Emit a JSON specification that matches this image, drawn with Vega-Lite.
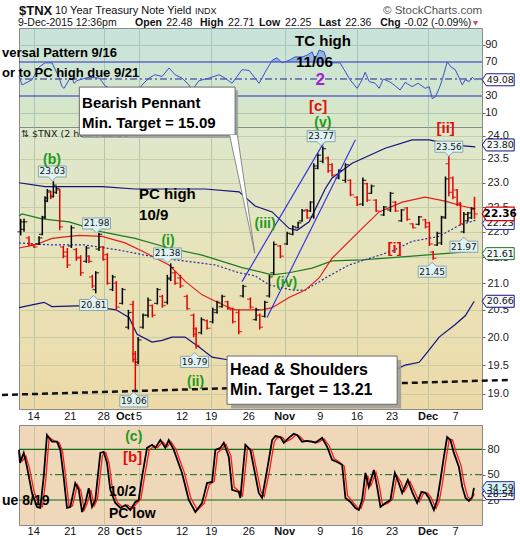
{
"$schema": "https://vega.github.io/schema/vega-lite/v6.json",
"padding": {"top": 4, "left": 0, "right": 0, "bottom": 0},
"background": "white",
"config": {"font": "Liberation Sans", "view": {"stroke": "#8a8a8a"}, "axis": {"labelOverlap": false}},
"datasets": {
"xt": [{"d":0,"t":"14","m":0},{"d":5.1,"t":"21","m":0},{"d":9.76,"t":"28","m":0},{"d":12.75,"t":"Oct","m":1},{"d":14.69,"t":"5","m":0},{"d":20.68,"t":"12","m":0},{"d":24.77,"t":"19","m":0},{"d":29.99,"t":"26","m":0},{"d":35,"t":"Nov","m":1},{"d":39.97,"t":"9","m":0},{"d":45.09,"t":"16","m":0},{"d":49.97,"t":"23","m":0},{"d":54.99,"t":"Dec","m":1},{"d":58.8,"t":"7","m":0}],
"rsi": [{"d":-2.05,"v":53},{"d":-1.63,"v":43},{"d":-0.24,"v":49},{"d":0.74,"v":64},{"d":1.58,"v":69},{"d":2.55,"v":69},{"d":3.53,"v":52},{"d":3.95,"v":41},{"d":4.23,"v":39},{"d":4.92,"v":49},{"d":5.34,"v":51},{"d":5.62,"v":45},{"d":6.04,"v":48},{"d":6.74,"v":50},{"d":7.71,"v":52},{"d":9.11,"v":51},{"d":9.53,"v":47},{"d":9.94,"v":42},{"d":10.92,"v":38},{"d":12.04,"v":33},{"d":13.0,"v":28},{"d":14.0,"v":22},{"d":14.55,"v":35},{"d":15.1,"v":43},{"d":16.08,"v":51},{"d":16.92,"v":55},{"d":17.9,"v":53},{"d":18.87,"v":63},{"d":19.71,"v":55},{"d":20.68,"v":51},{"d":21.66,"v":43},{"d":22.08,"v":37},{"d":23.05,"v":48},{"d":24.45,"v":51},{"d":25.84,"v":55},{"d":26.68,"v":51},{"d":27.66,"v":45},{"d":29.05,"v":61},{"d":30.03,"v":60},{"d":30.87,"v":51},{"d":31.42,"v":45},{"d":31.84,"v":51},{"d":32.26,"v":58},{"d":33.24,"v":72},{"d":33.93,"v":75},{"d":34.63,"v":69},{"d":35.6,"v":72},{"d":36.44,"v":76},{"d":37.42,"v":76},{"d":38.12,"v":78},{"d":38.82,"v":82},{"d":39.23,"v":73},{"d":39.79,"v":84},{"d":40.49,"v":82},{"d":40.91,"v":70},{"d":41.6,"v":69},{"d":42.7,"v":69},{"d":43.28,"v":61},{"d":44.11,"v":49},{"d":45.09,"v":39},{"d":45.79,"v":49},{"d":46.21,"v":58},{"d":46.77,"v":47},{"d":47.6,"v":45},{"d":48.16,"v":39},{"d":48.72,"v":50},{"d":49.55,"v":47},{"d":50.25,"v":43},{"d":51.09,"v":37},{"d":51.79,"v":46},{"d":52.76,"v":41},{"d":53.6,"v":45},{"d":54.58,"v":39},{"d":55.14,"v":41},{"d":55.56,"v":27},{"d":56.0,"v":29},{"d":56.53,"v":39},{"d":56.95,"v":49},{"d":57.65,"v":70},{"d":58.2,"v":64},{"d":58.77,"v":61},{"d":59.33,"v":51},{"d":59.75,"v":43},{"d":60.16,"v":49},{"d":60.72,"v":47},{"d":61.14,"v":52},{"d":61.56,"v":49}],
"ob": [{"d":32.98,"v":70},{"d":33.24,"v":72},{"d":33.93,"v":75},{"d":34.4,"v":70},{"d":34.9,"v":70},{"d":35.6,"v":72},{"d":36.44,"v":76},{"d":37.42,"v":76},{"d":38.12,"v":78},{"d":38.82,"v":82},{"d":39.23,"v":73},{"d":39.79,"v":84},{"d":40.49,"v":82},{"d":40.91,"v":70}],
"bars": [
{"d":-1.81,"o":22.0,"h":22.26,"l":21.93,"c":22.2,"dir":"up"},
{"d":-1.35,"o":22.05,"h":22.26,"l":22.0,"c":22.2,"dir":"up"},
{"d":-0.66,"o":21.88,"h":21.91,"l":21.72,"c":21.76,"dir":"dn"},
{"d":0.04,"o":21.74,"h":21.75,"l":21.68,"c":21.7,"dir":"dn"},
{"d":0.74,"o":21.76,"h":21.91,"l":21.74,"c":21.88,"dir":"up"},
{"d":1.2,"o":21.95,"h":22.32,"l":21.93,"c":22.28,"dir":"up"},
{"d":1.58,"o":22.3,"h":22.72,"l":22.26,"c":22.68,"dir":"up"},
{"d":1.9,"o":22.62,"h":22.87,"l":22.6,"c":22.83,"dir":"up"},
{"d":2.37,"o":22.8,"h":22.83,"l":22.66,"c":22.7,"dir":"dn"},
{"d":2.74,"o":22.72,"h":23.03,"l":22.7,"c":22.95,"dir":"up"},
{"d":3.15,"o":22.8,"h":22.91,"l":22.77,"c":22.88,"dir":"up"},
{"d":3.63,"o":22.85,"h":22.87,"l":22.03,"c":22.1,"dir":"dn"},
{"d":4.13,"o":21.7,"h":21.72,"l":21.48,"c":21.52,"dir":"dn"},
{"d":4.69,"o":21.6,"h":21.68,"l":21.29,"c":21.35,"dir":"dn"},
{"d":5.25,"o":21.72,"h":22.13,"l":21.68,"c":22.08,"dir":"up"},
{"d":5.94,"o":21.65,"h":21.68,"l":21.43,"c":21.48,"dir":"dn"},
{"d":6.55,"o":21.5,"h":21.54,"l":21.14,"c":21.2,"dir":"dn"},
{"d":7.34,"o":21.42,"h":21.72,"l":21.39,"c":21.68,"dir":"up"},
{"d":7.71,"o":21.52,"h":21.54,"l":21.39,"c":21.42,"dir":"dn"},
{"d":8.18,"o":21.12,"h":21.16,"l":20.91,"c":20.95,"dir":"dn"},
{"d":8.65,"o":20.88,"h":21.23,"l":20.81,"c":21.2,"dir":"up"},
{"d":9.1,"o":21.66,"h":21.98,"l":21.62,"c":21.95,"dir":"up"},
{"d":9.67,"o":21.7,"h":21.72,"l":21.43,"c":21.46,"dir":"dn"},
{"d":10.27,"o":21.55,"h":21.58,"l":20.97,"c":21.0,"dir":"dn"},
{"d":11.0,"o":20.88,"h":21.16,"l":20.85,"c":21.12,"dir":"up"},
{"d":11.52,"o":21.0,"h":21.04,"l":20.5,"c":20.55,"dir":"dn"},
{"d":12.36,"o":20.62,"h":20.91,"l":20.6,"c":20.88,"dir":"up"},
{"d":13.2,"o":20.18,"h":20.5,"l":20.14,"c":20.45,"dir":"up"},
{"d":13.85,"o":20.6,"h":20.67,"l":19.55,"c":19.6,"dir":"dn"},
{"d":14.17,"o":19.7,"h":19.75,"l":19.06,"c":19.5,"dir":"dn"},
{"d":14.55,"o":19.55,"h":20.0,"l":19.52,"c":19.95,"dir":"up"},
{"d":15.24,"o":20.18,"h":20.43,"l":20.15,"c":20.4,"dir":"up"},
{"d":15.94,"o":20.4,"h":20.73,"l":20.36,"c":20.68,"dir":"up"},
{"d":16.54,"o":20.58,"h":20.6,"l":20.36,"c":20.4,"dir":"dn"},
{"d":17.24,"o":20.62,"h":20.91,"l":20.6,"c":20.88,"dir":"up"},
{"d":17.94,"o":20.75,"h":20.78,"l":20.54,"c":20.58,"dir":"dn"},
{"d":18.63,"o":20.64,"h":21.16,"l":20.6,"c":21.1,"dir":"up"},
{"d":19.1,"o":21.08,"h":21.38,"l":21.04,"c":21.3,"dir":"up"},
{"d":19.7,"o":21.2,"h":21.23,"l":20.97,"c":21.0,"dir":"dn"},
{"d":20.45,"o":21.1,"h":21.16,"l":20.91,"c":20.95,"dir":"dn"},
{"d":21.38,"o":20.75,"h":20.78,"l":20.5,"c":20.52,"dir":"dn"},
{"d":22.3,"o":20.4,"h":20.43,"l":20.0,"c":20.05,"dir":"dn"},
{"d":22.64,"o":20.15,"h":20.18,"l":19.79,"c":19.85,"dir":"dn"},
{"d":23.38,"o":20.08,"h":20.36,"l":20.05,"c":20.32,"dir":"up"},
{"d":24.17,"o":20.3,"h":20.32,"l":20.14,"c":20.16,"dir":"dn"},
{"d":24.96,"o":20.28,"h":20.54,"l":20.25,"c":20.5,"dir":"up"},
{"d":25.56,"o":20.45,"h":20.67,"l":20.43,"c":20.64,"dir":"up"},
{"d":26.26,"o":20.56,"h":20.78,"l":20.54,"c":20.75,"dir":"up"},
{"d":27.06,"o":20.65,"h":20.67,"l":20.5,"c":20.52,"dir":"dn"},
{"d":27.75,"o":20.5,"h":20.54,"l":20.25,"c":20.28,"dir":"dn"},
{"d":28.59,"o":20.45,"h":20.5,"l":20.05,"c":20.1,"dir":"dn"},
{"d":29.19,"o":20.76,"h":20.97,"l":20.73,"c":20.94,"dir":"up"},
{"d":30.21,"o":20.7,"h":20.73,"l":20.52,"c":20.55,"dir":"dn"},
{"d":31.0,"o":20.32,"h":20.54,"l":20.3,"c":20.5,"dir":"up"},
{"d":31.52,"o":20.4,"h":20.43,"l":20.14,"c":20.18,"dir":"dn"},
{"d":32.22,"o":20.38,"h":20.67,"l":20.36,"c":20.64,"dir":"up"},
{"d":32.86,"o":20.76,"h":21.16,"l":20.73,"c":21.12,"dir":"up"},
{"d":33.47,"o":21.2,"h":21.81,"l":21.16,"c":21.75,"dir":"up"},
{"d":34.39,"o":21.72,"h":21.74,"l":21.48,"c":21.52,"dir":"dn"},
{"d":35.33,"o":21.76,"h":22.0,"l":21.74,"c":21.97,"dir":"up"},
{"d":36.12,"o":21.95,"h":22.13,"l":21.93,"c":22.1,"dir":"up"},
{"d":36.86,"o":22.08,"h":22.2,"l":22.07,"c":22.18,"dir":"up"},
{"d":37.42,"o":22.22,"h":22.46,"l":22.2,"c":22.42,"dir":"up"},
{"d":38.12,"o":22.44,"h":22.46,"l":22.26,"c":22.28,"dir":"dn"},
{"d":38.58,"o":22.42,"h":22.62,"l":22.4,"c":22.6,"dir":"up"},
{"d":39.05,"o":22.3,"h":23.41,"l":22.26,"c":23.35,"dir":"up"},
{"d":39.61,"o":23.3,"h":23.62,"l":23.28,"c":23.58,"dir":"up"},
{"d":40.31,"o":23.45,"h":23.77,"l":23.41,"c":23.72,"dir":"up"},
{"d":41.05,"o":23.52,"h":23.55,"l":23.21,"c":23.25,"dir":"dn"},
{"d":41.6,"o":23.38,"h":23.41,"l":23.13,"c":23.16,"dir":"dn"},
{"d":42.54,"o":23.1,"h":23.28,"l":23.07,"c":23.25,"dir":"up"},
{"d":43.46,"o":23.05,"h":23.41,"l":23.0,"c":23.38,"dir":"up"},
{"d":44.16,"o":23.05,"h":23.07,"l":22.72,"c":22.75,"dir":"dn"},
{"d":45.09,"o":22.7,"h":22.72,"l":22.52,"c":22.55,"dir":"dn"},
{"d":45.89,"o":22.56,"h":23.11,"l":22.52,"c":23.05,"dir":"up"},
{"d":46.49,"o":22.98,"h":23.0,"l":22.6,"c":22.64,"dir":"dn"},
{"d":47.09,"o":22.78,"h":22.96,"l":22.77,"c":22.93,"dir":"up"},
{"d":47.74,"o":22.64,"h":22.66,"l":22.4,"c":22.42,"dir":"dn"},
{"d":48.81,"o":22.34,"h":22.52,"l":22.32,"c":22.5,"dir":"up"},
{"d":49.74,"o":22.44,"h":22.81,"l":22.4,"c":22.78,"dir":"up"},
{"d":50.43,"o":22.6,"h":22.62,"l":22.4,"c":22.42,"dir":"dn"},
{"d":51.27,"o":22.22,"h":22.46,"l":22.2,"c":22.44,"dir":"up"},
{"d":52.06,"o":22.48,"h":22.5,"l":22.22,"c":22.25,"dir":"dn"},
{"d":52.86,"o":22.16,"h":22.17,"l":22.07,"c":22.08,"dir":"dn"},
{"d":53.7,"o":22.15,"h":22.32,"l":22.13,"c":22.3,"dir":"up"},
{"d":54.62,"o":22.24,"h":22.26,"l":22.07,"c":22.1,"dir":"dn"},
{"d":55.17,"o":22.18,"h":22.2,"l":21.72,"c":21.76,"dir":"dn"},
{"d":55.69,"o":21.6,"h":21.62,"l":21.45,"c":21.48,"dir":"dn"},
{"d":56.25,"o":21.74,"h":22.0,"l":21.72,"c":21.97,"dir":"up"},
{"d":56.85,"o":21.78,"h":22.32,"l":21.74,"c":22.28,"dir":"up"},
{"d":57.41,"o":22.3,"h":23.13,"l":22.26,"c":23.08,"dir":"up"},
{"d":57.88,"o":23.4,"h":23.56,"l":22.72,"c":22.8,"dir":"dn"},
{"d":58.44,"o":23.1,"h":23.13,"l":22.66,"c":22.7,"dir":"dn"},
{"d":59.04,"o":22.85,"h":22.87,"l":22.52,"c":22.55,"dir":"dn"},
{"d":59.5,"o":22.58,"h":22.6,"l":22.13,"c":22.16,"dir":"dn"},
{"d":59.97,"o":22.0,"h":22.4,"l":21.97,"c":22.35,"dir":"up"},
{"d":60.53,"o":22.22,"h":22.4,"l":22.2,"c":22.38,"dir":"up"},
{"d":61.03,"o":22.28,"h":22.5,"l":22.26,"c":22.46,"dir":"up"},
{"d":61.45,"o":22.48,"h":22.71,"l":22.26,"c":22.36,"dir":"dn"}],
"lines": [
{"s":"upper","d":-2.05,"v":23.0},{"s":"upper","d":1.58,"v":22.92},{"s":"upper","d":4.92,"v":22.92},{"s":"upper","d":9.53,"v":22.92},{"s":"upper","d":14.13,"v":22.87},{"s":"upper","d":19.3,"v":22.87},{"s":"upper","d":23.9,"v":22.87},{"s":"upper","d":28.63,"v":22.81},{"s":"upper","d":30.87,"v":22.52},{"s":"upper","d":33.24,"v":22.4},{"s":"upper","d":35.6,"v":22.07},{"s":"upper","d":36.72,"v":22.03},{"s":"upper","d":38.4,"v":22.2},{"s":"upper","d":40.63,"v":22.87},{"s":"upper","d":41.6,"v":23.1},{"s":"upper","d":44.4,"v":23.41},{"s":"upper","d":49.0,"v":23.73},{"s":"upper","d":52.76,"v":23.91},{"s":"upper","d":55.14,"v":23.91},{"s":"upper","d":58.35,"v":23.8},{"s":"upper","d":61.56,"v":23.76},
{"s":"lower","d":-2.05,"v":20.54},{"s":"lower","d":1.44,"v":20.64},{"s":"lower","d":2.55,"v":20.56},{"s":"lower","d":7.29,"v":20.58},{"s":"lower","d":11.48,"v":20.5},{"s":"lower","d":13.29,"v":20.36},{"s":"lower","d":14.41,"v":20.05},{"s":"lower","d":16.5,"v":19.91},{"s":"lower","d":17.9,"v":19.94},{"s":"lower","d":19.29,"v":20.0},{"s":"lower","d":21.1,"v":20.0},{"s":"lower","d":23.05,"v":19.82},{"s":"lower","d":24.87,"v":19.64},{"s":"lower","d":27.24,"v":19.59},{"s":"lower","d":29.0,"v":19.55},{"s":"lower","d":33.0,"v":19.48},{"s":"lower","d":40.0,"v":19.43},{"s":"lower","d":47.0,"v":19.41},{"s":"lower","d":50.67,"v":19.43},{"s":"lower","d":51.79,"v":19.5},{"s":"lower","d":53.74,"v":19.55},{"s":"lower","d":55.14,"v":19.77},{"s":"lower","d":56.53,"v":20.0},{"s":"lower","d":58.77,"v":20.23},{"s":"lower","d":60.16,"v":20.39},{"s":"lower","d":61.42,"v":20.66},
{"s":"mid","d":-2.05,"v":21.78},{"s":"mid","d":2.55,"v":21.74},{"s":"mid","d":7.15,"v":21.74},{"s":"mid","d":11.9,"v":21.64},{"s":"mid","d":15.52,"v":21.54},{"s":"mid","d":19.71,"v":21.45},{"s":"mid","d":25.29,"v":21.35},{"s":"mid","d":28.6,"v":21.2},{"s":"mid","d":30.87,"v":21.14},{"s":"mid","d":32.82,"v":20.97},{"s":"mid","d":36.02,"v":20.87},{"s":"mid","d":37.84,"v":20.87},{"s":"mid","d":38.82,"v":20.95},{"s":"mid","d":41.19,"v":21.14},{"s":"mid","d":43.97,"v":21.35},{"s":"mid","d":49.97,"v":21.62},{"s":"mid","d":52.76,"v":21.81},{"s":"mid","d":56.53,"v":21.91},{"s":"mid","d":59.33,"v":22.13},{"s":"mid","d":61.56,"v":22.23},
{"s":"ma50","d":-2.05,"v":21.68},{"s":"ma50","d":0.18,"v":21.74},{"s":"ma50","d":2.55,"v":21.87},{"s":"ma50","d":6.32,"v":21.93},{"s":"ma50","d":9.53,"v":21.91},{"s":"ma50","d":12.73,"v":21.78},{"s":"ma50","d":15.1,"v":21.62},{"s":"ma50","d":18.87,"v":21.35},{"s":"ma50","d":21.1,"v":21.04},{"s":"ma50","d":23.48,"v":20.78},{"s":"ma50","d":26.26,"v":20.6},{"s":"ma50","d":28.08,"v":20.5},{"s":"ma50","d":31.84,"v":20.5},{"s":"ma50","d":33.24,"v":20.54},{"s":"ma50","d":35.6,"v":20.73},{"s":"ma50","d":37.84,"v":20.87},{"s":"ma50","d":39.79,"v":21.1},{"s":"ma50","d":41.6,"v":21.48},{"s":"ma50","d":45.79,"v":22.07},{"s":"ma50","d":48.16,"v":22.4},{"s":"ma50","d":51.37,"v":22.6},{"s":"ma50","d":54.58,"v":22.7},{"s":"ma50","d":57.37,"v":22.62},{"s":"ma50","d":59.75,"v":22.52},{"s":"ma50","d":61.56,"v":22.46},
{"s":"ma200","d":-2.05,"v":22.32},{"s":"ma200","d":-1.63,"v":22.36},{"s":"ma200","d":1.16,"v":22.26},{"s":"ma200","d":4.92,"v":22.2},{"s":"ma200","d":9.53,"v":22.0},{"s":"ma200","d":14.13,"v":21.87},{"s":"ma200","d":18.87,"v":21.68},{"s":"ma200","d":23.48,"v":21.54},{"s":"ma200","d":29.05,"v":21.3},{"s":"ma200","d":33.24,"v":21.16},{"s":"ma200","d":35.6,"v":21.2},{"s":"ma200","d":38.82,"v":21.29},{"s":"ma200","d":41.6,"v":21.43},{"s":"ma200","d":45.79,"v":21.45},{"s":"ma200","d":52.76,"v":21.52},{"s":"ma200","d":61.56,"v":21.62}],
"chan": [{"s":"a","d":29.05,"v":21.03},{"s":"a","d":40.67,"v":23.91},{"s":"b","d":32.54,"v":20.36},{"s":"b","d":44.85,"v":23.91}],
"peaks": [{"d":2.59,"v":23.235,"t":"23.03","p":"a"},{"d":8.76,"v":22.167,"t":"21.98","p":"a"},{"d":18.66,"v":21.573,"t":"21.38","p":"a"},{"d":8.34,"v":20.59,"t":"20.81","p":"b"},{"d":13.95,"v":18.869,"t":"19.06","p":"b"},{"d":22.43,"v":19.556,"t":"19.79","p":"b"},{"d":40.07,"v":23.99,"t":"23.77","p":"a"},{"d":57.88,"v":23.762,"t":"23.56","p":"a"},{"d":55.55,"v":21.221,"t":"21.45","p":"b"},{"d":59.97,"v":21.706,"t":"21.97","p":"b"}],
"rcall": [{"v":23.8,"t":"23.80","s":"upper"},{"v":22.167,"t":"22.23","s":"mid"},{"v":21.57,"t":"21.61","s":"ma200"},{"v":20.66,"t":"20.66","s":"lower"},{"v":22.36,"t":"22.36","s":"last"}],
"stk": [{"d":-2.05,"v":79.4},{"d":-1.91,"v":64},{"d":-1.39,"v":75.8},{"d":-0.93,"v":59},{"d":-0.24,"v":28.4},{"d":0.46,"v":11.8},{"d":0.92,"v":10.6},{"d":1.39,"v":47},{"d":1.85,"v":97},{"d":2.55,"v":89},{"d":3.25,"v":89},{"d":3.71,"v":79.4},{"d":4.18,"v":47},{"d":4.64,"v":10.6},{"d":5.1,"v":11.8},{"d":5.8,"v":40},{"d":6.28,"v":32},{"d":6.74,"v":5.8},{"d":7.2,"v":16.5},{"d":7.67,"v":34},{"d":8.13,"v":11.8},{"d":8.59,"v":20},{"d":9.29,"v":75.8},{"d":9.76,"v":77},{"d":10.22,"v":64},{"d":10.68,"v":32},{"d":11.38,"v":16.5},{"d":12.08,"v":10.6},{"d":12.78,"v":14},{"d":13.47,"v":8.2},{"d":14.17,"v":17.7},{"d":14.64,"v":20},{"d":15.1,"v":47},{"d":15.8,"v":81.7},{"d":16.5,"v":85.4},{"d":16.96,"v":81.7},{"d":17.66,"v":91},{"d":18.35,"v":81.7},{"d":18.83,"v":91},{"d":19.53,"v":79.4},{"d":20.68,"v":52},{"d":21.62,"v":20},{"d":22.54,"v":5.8},{"d":23.47,"v":16.5},{"d":24.17,"v":40},{"d":24.87,"v":41.4},{"d":25.33,"v":79.4},{"d":26.03,"v":81.7},{"d":26.5,"v":87.7},{"d":27.2,"v":71},{"d":27.66,"v":32},{"d":28.59,"v":29.6},{"d":28.81,"v":22.4},{"d":29.51,"v":85.4},{"d":30.21,"v":79.4},{"d":31.38,"v":28.4},{"d":31.84,"v":22.4},{"d":32.54,"v":55.6},{"d":33.24,"v":91},{"d":33.7,"v":95.7},{"d":34.39,"v":94.6},{"d":34.87,"v":87.7},{"d":35.56,"v":93.6},{"d":36.26,"v":98.3},{"d":36.72,"v":97},{"d":37.42,"v":89},{"d":38.12,"v":90},{"d":38.82,"v":89},{"d":39.27,"v":87.7},{"d":40.21,"v":93.6},{"d":40.91,"v":83},{"d":41.6,"v":67.5},{"d":42.3,"v":65},{"d":43.0,"v":61.8},{"d":43.46,"v":22.4},{"d":44.16,"v":17.7},{"d":44.85,"v":10.6},{"d":45.33,"v":8.2},{"d":45.79,"v":20},{"d":46.25,"v":52},{"d":46.72,"v":35.5},{"d":47.42,"v":55.6},{"d":47.88,"v":35.5},{"d":48.34,"v":11.8},{"d":49.04,"v":16.5},{"d":49.74,"v":20},{"d":50.35,"v":52},{"d":50.91,"v":40},{"d":51.37,"v":28.4},{"d":52.16,"v":43.8},{"d":52.76,"v":29.6},{"d":53.46,"v":16.5},{"d":54.06,"v":29.6},{"d":54.62,"v":28.4},{"d":55.09,"v":22.4},{"d":55.79,"v":8.2},{"d":56.25,"v":20},{"d":56.71,"v":43.8},{"d":57.18,"v":71},{"d":57.64,"v":94.6},{"d":58.1,"v":91},{"d":58.58,"v":75.8},{"d":59.28,"v":59},{"d":59.75,"v":35.5},{"d":60.21,"v":22.4},{"d":60.68,"v":18.9},{"d":61.14,"v":23.6},{"d":61.38,"v":34.3}],
"std": [{"d":-2.05,"v":76},{"d":-1.6,"v":66},{"d":-1.1,"v":72},{"d":-0.6,"v":58},{"d":0.06,"v":30},{"d":0.76,"v":13},{"d":1.22,"v":12},{"d":1.69,"v":45},{"d":2.15,"v":94},{"d":2.85,"v":90},{"d":3.55,"v":88},{"d":4.01,"v":78},{"d":4.48,"v":46},{"d":4.94,"v":12},{"d":5.4,"v":13},{"d":6.1,"v":38},{"d":6.58,"v":31},{"d":7.04,"v":8},{"d":7.5,"v":17},{"d":7.97,"v":32},{"d":8.43,"v":13},{"d":8.89,"v":21},{"d":9.59,"v":73},{"d":10.06,"v":76},{"d":10.52,"v":63},{"d":10.98,"v":33},{"d":11.68,"v":17},{"d":12.38,"v":12},{"d":13.08,"v":14},{"d":13.77,"v":10},{"d":14.47,"v":17},{"d":14.94,"v":21},{"d":15.4,"v":45},{"d":16.1,"v":79},{"d":16.8,"v":84},{"d":17.26,"v":82},{"d":17.96,"v":89},{"d":18.65,"v":83},{"d":19.13,"v":89},{"d":19.83,"v":80},{"d":20.98,"v":53},{"d":21.92,"v":22},{"d":22.84,"v":8},{"d":23.77,"v":16},{"d":24.47,"v":38},{"d":25.17,"v":42},{"d":25.63,"v":76},{"d":26.33,"v":81},{"d":26.8,"v":86},{"d":27.5,"v":72},{"d":27.96,"v":35},{"d":28.89,"v":29},{"d":29.11,"v":24},{"d":29.81,"v":82},{"d":30.51,"v":79},{"d":31.68,"v":30},{"d":32.14,"v":24},{"d":32.84,"v":53},{"d":33.54,"v":89},{"d":34.0,"v":94},{"d":34.69,"v":94},{"d":35.17,"v":89},{"d":35.86,"v":92},{"d":36.56,"v":97},{"d":37.02,"v":96},{"d":37.72,"v":90},{"d":38.42,"v":89},{"d":39.12,"v":89},{"d":39.57,"v":88},{"d":40.51,"v":92},{"d":41.21,"v":84},{"d":41.9,"v":69},{"d":42.6,"v":65},{"d":43.3,"v":60},{"d":43.76,"v":25},{"d":44.46,"v":18},{"d":45.15,"v":11},{"d":45.63,"v":10},{"d":46.09,"v":21},{"d":46.55,"v":49},{"d":47.02,"v":37},{"d":47.72,"v":53},{"d":48.18,"v":37},{"d":48.64,"v":14},{"d":49.34,"v":16},{"d":50.04,"v":21},{"d":50.65,"v":49},{"d":51.21,"v":41},{"d":51.67,"v":30},{"d":52.46,"v":42},{"d":53.06,"v":31},{"d":53.76,"v":18},{"d":54.36,"v":28},{"d":54.92,"v":28},{"d":55.39,"v":23},{"d":56.09,"v":10},{"d":56.55,"v":19},{"d":57.01,"v":41},{"d":57.48,"v":68},{"d":57.94,"v":92},{"d":58.4,"v":91},{"d":58.88,"v":77},{"d":59.58,"v":61},{"d":60.05,"v":38},{"d":60.51,"v":24},{"d":60.98,"v":20},{"d":61.45,"v":27.5}]
},
"bounds": "flush",
"spacing": 0,
"vconcat": [
{
"width": 463, "height": 99,
"view": {"stroke": "#8a8a8a", "fill": {"gradient": "linear", "x1": 0, "y1": 0, "x2": 0, "y2": 1, "stops": [{"offset": 0, "color": "#c8e3dc"}, {"offset": 1, "color": "#d9e8c5"}]}},
"layer": [
{"data": {"name": "ob"}, "mark": {"type": "area", "color": "#8fb6dc", "opacity": 1},
 "encoding": {
  "x": {"field": "d", "type": "quantitative", "scale": {"domain": [-2.05, 62.5], "nice": false, "zero": false}, "axis": {"values": [0,5.1,9.76,12.9,14.69,20.68,24.77,29.99,35,39.97,45.09,49.97,54.99,58.8], "grid": true, "gridColor": "#a9c7bb", "labels": false, "ticks": false, "domain": false, "title": null}},
  "y": {"field": "v", "type": "quantitative", "scale": {"domain": [-6.5, 110], "nice": false, "zero": false}, "axis": {"orient": "right", "values": [10, 30, 70, 90], "grid": true, "gridColor": "#a9c7bb", "domain": false, "labels": false, "ticks": true, "tickSize": 3, "tickColor": "#666", "title": null}},
  "y2": {"datum": 70}}},
{"data": {"values": [{"v": 70}, {"v": 30}]}, "mark": {"type": "rule", "color": "#2b2bc4", "strokeWidth": 1.2},
 "encoding": {"y": {"field": "v", "type": "quantitative", "scale": {"domain": [-6.5, 110], "nice": false, "zero": false}, "axis": {"title": null}}}},
{"data": {"values": [{"v": 50}]}, "mark": {"type": "rule", "color": "#22229a", "strokeWidth": 1, "strokeDash": [7, 3, 2, 3]},
 "encoding": {"y": {"field": "v", "type": "quantitative", "scale": {"domain": [-6.5, 110], "nice": false, "zero": false}, "axis": {"title": null}}}},
{"data": {"name": "rsi"}, "mark": {"type": "line", "color": "#3b4fd0", "strokeWidth": 1},
 "encoding": {"x": {"field": "d", "type": "quantitative", "scale": {"domain": [-2.05, 62.5], "nice": false, "zero": false}, "axis": {"title": null}},
  "y": {"field": "v", "type": "quantitative", "scale": {"domain": [-6.5, 110], "nice": false, "zero": false}, "axis": {"title": null}}}},
{"data": {"values": [{"v": 10, "t": "10"}, {"v": 30, "t": "30"}, {"v": 70, "t": "70"}, {"v": 90, "t": "90"}]},
 "mark": {"type": "text", "align": "left", "baseline": "middle", "fontSize": 11, "color": "#222"},
 "encoding": {"x": {"datum": 62.95, "type": "quantitative", "scale": {"domain": [-2.05, 62.5], "nice": false, "zero": false}, "axis": {"title": null}},
  "y": {"field": "v", "type": "quantitative", "scale": {"domain": [-6.5, 110], "nice": false, "zero": false}, "axis": {"title": null}}, "text": {"field": "t"}}},
{"data": {"values": [{"d": -4.42, "v": 80.6, "t": "versal Pattern 9/16"}, {"d": -4.42, "v": 57.1, "t": "or to PC high due 9/21"}]},
 "mark": {"type": "text", "align": "left", "baseline": "middle", "fontSize": 13, "fontWeight": "bold", "color": "#000"},
 "encoding": {"x": {"field": "d", "type": "quantitative", "scale": {"domain": [-2.05, 62.5], "nice": false, "zero": false}, "axis": {"title": null}},
  "y": {"field": "v", "type": "quantitative", "scale": {"domain": [-6.5, 110], "nice": false, "zero": false}, "axis": {"title": null}}, "text": {"field": "t"}}},
{"data": {"values": [{"d": 36.44, "v": 94.7, "t": "TC high"}, {"d": 36.58, "v": 70, "t": "11/06"}]},
 "mark": {"type": "text", "align": "left", "baseline": "middle", "fontSize": 15, "fontWeight": "bold", "color": "#000"},
 "encoding": {"x": {"field": "d", "type": "quantitative", "scale": {"domain": [-2.05, 62.5], "nice": false, "zero": false}, "axis": {"title": null}},
  "y": {"field": "v", "type": "quantitative", "scale": {"domain": [-6.5, 110], "nice": false, "zero": false}, "axis": {"title": null}}, "text": {"field": "t"}}},
{"data": {"values": [{"d": 39.93, "v": 48.8, "t": "2"}]},
 "mark": {"type": "text", "align": "center", "baseline": "middle", "fontSize": 17, "fontWeight": "bold", "color": "#a21ed6"},
 "encoding": {"x": {"field": "d", "type": "quantitative", "scale": {"domain": [-2.05, 62.5], "nice": false, "zero": false}, "axis": {"title": null}},
  "y": {"field": "v", "type": "quantitative", "scale": {"domain": [-6.5, 110], "nice": false, "zero": false}, "axis": {"title": null}}, "text": {"field": "t"}}},
{"data": {"values": [{"d": -2.05, "v": 130, "t": "$TNX"}]},
 "mark": {"type": "text", "align": "left", "baseline": "middle", "fontSize": 13, "fontWeight": "bold", "color": "#111"},
 "encoding": {"x": {"field": "d", "type": "quantitative", "scale": {"domain": [-2.05, 62.5], "nice": false, "zero": false}, "axis": {"title": null}},
  "y": {"field": "v", "type": "quantitative", "scale": {"domain": [-6.5, 110], "nice": false, "zero": false}, "axis": {"title": null}}, "text": {"field": "t"}}},
{"data": {"values": [{"d": 2.97, "v": 130, "t": "10 Year Treasury Note Yield"}]},
 "mark": {"type": "text", "align": "left", "baseline": "middle", "fontSize": 11, "color": "#111"},
 "encoding": {"x": {"field": "d", "type": "quantitative", "scale": {"domain": [-2.05, 62.5], "nice": false, "zero": false}, "axis": {"title": null}},
  "y": {"field": "v", "type": "quantitative", "scale": {"domain": [-6.5, 110], "nice": false, "zero": false}, "axis": {"title": null}}, "text": {"field": "t"}}},
{"data": {"values": [{"d": 22.5, "v": 130, "t": "INDX"}]},
 "mark": {"type": "text", "align": "left", "baseline": "middle", "fontSize": 9, "color": "#111"},
 "encoding": {"x": {"field": "d", "type": "quantitative", "scale": {"domain": [-2.05, 62.5], "nice": false, "zero": false}, "axis": {"title": null}},
  "y": {"field": "v", "type": "quantitative", "scale": {"domain": [-6.5, 110], "nice": false, "zero": false}, "axis": {"title": null}}, "text": {"field": "t"}}},
{"data": {"values": [{"d": 62.53, "v": 130, "t": "© StockCharts.com"}]},
 "mark": {"type": "text", "align": "right", "baseline": "middle", "fontSize": 11.5, "color": "#555"},
 "encoding": {"x": {"field": "d", "type": "quantitative", "scale": {"domain": [-2.05, 62.5], "nice": false, "zero": false}, "axis": {"title": null}},
  "y": {"field": "v", "type": "quantitative", "scale": {"domain": [-6.5, 110], "nice": false, "zero": false}, "axis": {"title": null}}, "text": {"field": "t"}}},
{"data": {"values": [{"d": -2.19, "v": 115.9, "t": "9-Dec-2015 12:36pm"}, {"d": 18.47, "v": 115.9, "t": "22.48"}, {"d": 27.1, "v": 115.9, "t": "22.71"}, {"d": 35.05, "v": 115.9, "t": "22.25"}, {"d": 43.42, "v": 115.9, "t": "22.36"}, {"d": 51.65, "v": 115.9, "t": "-0.02 (-0.09%)"}]},
 "mark": {"type": "text", "align": "left", "baseline": "middle", "fontSize": 10.5, "color": "#111"},
 "encoding": {"x": {"field": "d", "type": "quantitative", "scale": {"domain": [-2.05, 62.5], "nice": false, "zero": false}, "axis": {"title": null}},
  "y": {"field": "v", "type": "quantitative", "scale": {"domain": [-6.5, 110], "nice": false, "zero": false}, "axis": {"title": null}}, "text": {"field": "t"}}},
{"data": {"values": [{"d": 14.13, "v": 115.9, "t": "Open"}, {"d": 23.19, "v": 115.9, "t": "High"}, {"d": 31.42, "v": 115.9, "t": "Low"}, {"d": 39.79, "v": 115.9, "t": "Last"}, {"d": 48.3, "v": 115.9, "t": "Chg"}]},
 "mark": {"type": "text", "align": "left", "baseline": "middle", "fontSize": 10.5, "fontWeight": "bold", "color": "#111"},
 "encoding": {"x": {"field": "d", "type": "quantitative", "scale": {"domain": [-2.05, 62.5], "nice": false, "zero": false}, "axis": {"title": null}},
  "y": {"field": "v", "type": "quantitative", "scale": {"domain": [-6.5, 110], "nice": false, "zero": false}, "axis": {"title": null}}, "text": {"field": "t"}}},
{"data": {"values": [{"d": 61.6, "v": 115.5}]},
 "mark": {"type": "point", "shape": "triangle-down", "filled": true, "color": "#b01030", "size": 30},
 "encoding": {"x": {"field": "d", "type": "quantitative", "scale": {"domain": [-2.05, 62.5], "nice": false, "zero": false}, "axis": {"title": null}},
  "y": {"field": "v", "type": "quantitative", "scale": {"domain": [-6.5, 110], "nice": false, "zero": false}, "axis": {"title": null}}}},
{"data": {"values": [{"v": 49.08, "t": "49.08"}]},
 "mark": {"type": "point", "shape": "M-1,0L-0.75,-0.375L1,-0.375L1,0.375L-0.75,0.375Z", "size": 1024, "filled": true, "fill": "#ffffff", "stroke": "#1a1a8c", "strokeWidth": 1, "opacity": 1},
 "encoding": {"x": {"datum": 64.76, "type": "quantitative", "scale": {"domain": [-2.05, 62.5], "nice": false, "zero": false}, "axis": {"title": null}},
  "y": {"field": "v", "type": "quantitative", "scale": {"domain": [-6.5, 110], "nice": false, "zero": false}, "axis": {"title": null}}}},
{"data": {"values": [{"v": 49.08, "t": "49.08"}]},
 "mark": {"type": "text", "align": "center", "baseline": "middle", "font": "DejaVu Sans", "fontSize": 9.5, "color": "#111"},
 "encoding": {"x": {"datum": 65.04, "type": "quantitative", "scale": {"domain": [-2.05, 62.5], "nice": false, "zero": false}, "axis": {"title": null}},
  "y": {"field": "v", "type": "quantitative", "scale": {"domain": [-6.5, 110], "nice": false, "zero": false}, "axis": {"title": null}}, "text": {"field": "t"}}}
]
},
{
"width": 463, "height": 282,
"view": {"stroke": "#8a8a8a", "fill": {"gradient": "linear", "x1": 0, "y1": 0, "x2": 0, "y2": 1, "stops": [{"offset": 0, "color": "#dde8cd"}, {"offset": 0.5, "color": "#e8e3ba"}, {"offset": 1, "color": "#eddaa7"}]}},
"layer": [
{"data": {"name": "lines"}, "transform": [{"filter": {"field": "s", "equal": "ma200"}}],
 "mark": {"type": "line", "color": "#1f7a1f", "strokeWidth": 1.2},
 "encoding": {
  "x": {"field": "d", "type": "quantitative", "scale": {"domain": [-2.05, 62.5], "nice": false, "zero": false}, "axis": {"values": [0,5.1,9.76,12.9,14.69,20.68,24.77,29.99,35,39.97,45.09,49.97,54.99,58.8], "grid": true, "gridColor": "#bcc6a2", "ticks": false, "domain": false, "labels": false, "title": null}},
  "y": {"field": "v", "type": "quantitative", "scale": {"type": "log", "domain": [18.74, 24.19], "nice": false}, "axis": {"orient": "right", "values": [19, 19.5, 20, 20.5, 21, 21.5, 22, 22.5, 23, 23.5, 24], "format": ".1f", "grid": true, "gridColor": "#c9cca8", "domain": false, "labels": true, "tickSize": 3, "tickColor": "#666", "labelFontSize": 11, "labelColor": "#222", "labelPadding": 2, "labelOverlap": false, "title": null}}}},
{"data": {"name": "lines"}, "transform": [{"filter": {"field": "s", "oneOf": ["upper", "lower"]}}],
 "mark": {"type": "line", "color": "#12127e", "strokeWidth": 1.2},
 "encoding": {"x": {"field": "d", "type": "quantitative", "scale": {"domain": [-2.05, 62.5], "nice": false, "zero": false}, "axis": {"title": null}},
  "y": {"field": "v", "type": "quantitative", "scale": {"type": "log", "domain": [18.74, 24.19], "nice": false}, "axis": {"title": null}}, "detail": {"field": "s"}}},
{"data": {"name": "lines"}, "transform": [{"filter": {"field": "s", "equal": "mid"}}],
 "mark": {"type": "line", "color": "#2a2aa8", "strokeWidth": 1.2, "strokeDash": [2, 2]},
 "encoding": {"x": {"field": "d", "type": "quantitative", "scale": {"domain": [-2.05, 62.5], "nice": false, "zero": false}, "axis": {"title": null}},
  "y": {"field": "v", "type": "quantitative", "scale": {"type": "log", "domain": [18.74, 24.19], "nice": false}, "axis": {"title": null}}}},
{"data": {"name": "lines"}, "transform": [{"filter": {"field": "s", "equal": "ma50"}}],
 "mark": {"type": "line", "color": "#e41c1c", "strokeWidth": 1.2},
 "encoding": {"x": {"field": "d", "type": "quantitative", "scale": {"domain": [-2.05, 62.5], "nice": false, "zero": false}, "axis": {"title": null}},
  "y": {"field": "v", "type": "quantitative", "scale": {"type": "log", "domain": [18.74, 24.19], "nice": false}, "axis": {"title": null}}}},
{"data": {"name": "bars"}, "mark": {"type": "rule", "strokeWidth": 1.5},
 "encoding": {"x": {"field": "d", "type": "quantitative", "scale": {"domain": [-2.05, 62.5], "nice": false, "zero": false}, "axis": {"title": null}},
  "y": {"field": "l", "type": "quantitative", "scale": {"type": "log", "domain": [18.74, 24.19], "nice": false}, "axis": {"title": null}}, "y2": {"field": "h"},
  "color": {"field": "dir", "type": "nominal", "scale": {"domain": ["up", "dn"], "range": ["#000000", "#e00000"]}, "legend": null}}},
{"data": {"name": "bars"}, "mark": {"type": "tick", "orient": "horizontal", "size": 3.5, "thickness": 1.3, "xOffset": -1.6},
 "encoding": {"x": {"field": "d", "type": "quantitative", "scale": {"domain": [-2.05, 62.5], "nice": false, "zero": false}, "axis": {"title": null}},
  "y": {"field": "o", "type": "quantitative", "scale": {"type": "log", "domain": [18.74, 24.19], "nice": false}, "axis": {"title": null}},
  "color": {"field": "dir", "type": "nominal", "scale": {"domain": ["up", "dn"], "range": ["#000000", "#e00000"]}, "legend": null}}},
{"data": {"name": "bars"}, "mark": {"type": "tick", "orient": "horizontal", "size": 3.5, "thickness": 1.3, "xOffset": 1.6},
 "encoding": {"x": {"field": "d", "type": "quantitative", "scale": {"domain": [-2.05, 62.5], "nice": false, "zero": false}, "axis": {"title": null}},
  "y": {"field": "c", "type": "quantitative", "scale": {"type": "log", "domain": [18.74, 24.19], "nice": false}, "axis": {"title": null}},
  "color": {"field": "dir", "type": "nominal", "scale": {"domain": ["up", "dn"], "range": ["#000000", "#e00000"]}, "legend": null}}},
{"data": {"name": "chan"}, "mark": {"type": "line", "color": "#2c2ce6", "strokeWidth": 1.1},
 "encoding": {"x": {"field": "d", "type": "quantitative", "scale": {"domain": [-2.05, 62.5], "nice": false, "zero": false}, "axis": {"title": null}},
  "y": {"field": "v", "type": "quantitative", "scale": {"type": "log", "domain": [18.74, 24.19], "nice": false}, "axis": {"title": null}}, "detail": {"field": "s"}}},
{"data": {"values": [{"d": -4.42, "v": 18.98, "d2": 66.43, "v2": 19.24}]}, "mark": {"type": "rule", "color": "#111", "strokeWidth": 2.5, "strokeDash": [6, 4]},
 "encoding": {"x": {"field": "d", "type": "quantitative", "scale": {"domain": [-2.05, 62.5], "nice": false, "zero": false}, "axis": {"title": null}}, "x2": {"field": "d2"},
  "y": {"field": "v", "type": "quantitative", "scale": {"type": "log", "domain": [18.74, 24.19], "nice": false}, "axis": {"title": null}}, "y2": {"field": "v2"}}},
{"data": {"name": "peaks"}, "mark": {"type": "point", "filled": true, "fill": "#dff3f3", "stroke": "#8aa4a8", "strokeWidth": 1, "opacity": 1, "size": 900},
 "encoding": {"x": {"field": "d", "type": "quantitative", "scale": {"domain": [-2.05, 62.5], "nice": false, "zero": false}, "axis": {"title": null}},
  "y": {"field": "v", "type": "quantitative", "scale": {"type": "log", "domain": [18.74, 24.19], "nice": false}, "axis": {"title": null}},
  "shape": {"field": "p", "type": "nominal", "scale": {"domain": ["a", "b"], "range": ["M-0.93,-0.37L0.93,-0.37L0.93,0.37L0.27,0.37L0,0.63L-0.27,0.37L-0.93,0.37Z", "M-0.93,-0.37L-0.27,-0.37L0,-0.63L0.27,-0.37L0.93,-0.37L0.93,0.37L-0.93,0.37Z"]}, "legend": null}}},
{"data": {"name": "peaks"}, "mark": {"type": "text", "align": "center", "baseline": "middle", "font": "DejaVu Sans", "fontSize": 9, "color": "#111"},
 "encoding": {"x": {"field": "d", "type": "quantitative", "scale": {"domain": [-2.05, 62.5], "nice": false, "zero": false}, "axis": {"title": null}},
  "y": {"field": "v", "type": "quantitative", "scale": {"type": "log", "domain": [18.74, 24.19], "nice": false}, "axis": {"title": null}}, "text": {"field": "t"}}},
{"data": {"values": [{"d": 2.55, "v": 23.478, "t": "(b)"}, {"d": 18.73, "v": 21.82, "t": "(i)"}, {"d": 22.57, "v": 19.205, "t": "(ii)"}, {"d": 32.26, "v": 22.157, "t": "(iii)"}, {"d": 35.26, "v": 20.995, "t": "(iv)"}, {"d": 40.31, "v": 24.28, "t": "(v)"}]},
 "mark": {"type": "text", "align": "center", "baseline": "middle", "fontSize": 14, "fontWeight": "bold", "color": "#1c9a1c"},
 "encoding": {"x": {"field": "d", "type": "quantitative", "scale": {"domain": [-2.05, 62.5], "nice": false, "zero": false}, "axis": {"title": null}},
  "y": {"field": "v", "type": "quantitative", "scale": {"type": "log", "domain": [18.74, 24.19], "nice": false}, "axis": {"title": null}}, "text": {"field": "t"}}},
{"data": {"values": [{"d": 39.65, "v": 24.65, "t": "[c]"}, {"d": 57.43, "v": 24.168, "t": "[ii]"}, {"d": 50.32, "v": 21.68, "t": "[i]"}]},
 "mark": {"type": "text", "align": "center", "baseline": "middle", "fontSize": 15, "fontWeight": "bold", "color": "#e01010"},
 "encoding": {"x": {"field": "d", "type": "quantitative", "scale": {"domain": [-2.05, 62.5], "nice": false, "zero": false}, "axis": {"title": null}},
  "y": {"field": "v", "type": "quantitative", "scale": {"type": "log", "domain": [18.74, 24.19], "nice": false}, "axis": {"title": null}}, "text": {"field": "t"}}},
{"data": {"values": [{"d": 14.69, "v": 22.767, "t": "PC high"}, {"d": 14.69, "v": 22.338, "t": "10/9"}]},
 "mark": {"type": "text", "align": "left", "baseline": "middle", "fontSize": 15, "fontWeight": "bold", "color": "#000"},
 "encoding": {"x": {"field": "d", "type": "quantitative", "scale": {"domain": [-2.05, 62.5], "nice": false, "zero": false}, "axis": {"title": null}},
  "y": {"field": "v", "type": "quantitative", "scale": {"type": "log", "domain": [18.74, 24.19], "nice": false}, "axis": {"title": null}}, "text": {"field": "t"}}},
{"data": {"values": [{"d": -1.77, "v": 24.04, "t": "⇅ $TNX (2 hour) 22.36"}]},
 "mark": {"type": "text", "align": "left", "baseline": "middle", "font": "DejaVu Sans", "fontSize": 9.5, "color": "#222"},
 "encoding": {"x": {"field": "d", "type": "quantitative", "scale": {"domain": [-2.05, 62.5], "nice": false, "zero": false}, "axis": {"title": null}},
  "y": {"field": "v", "type": "quantitative", "scale": {"type": "log", "domain": [18.74, 24.19], "nice": false}, "axis": {"title": null}}, "text": {"field": "t"}}},
{"data": {"values": [{"d": 6.74, "d2": 28.5, "v": 25.01, "v2": 23.95}, {"d": 27.52, "d2": 51.23, "v": 19.59, "v2": 18.75}]},
 "mark": {"type": "rect", "color": "#9a9a9a", "opacity": 0.85},
 "encoding": {"x": {"field": "d", "type": "quantitative", "scale": {"domain": [-2.05, 62.5], "nice": false, "zero": false}, "axis": {"title": null}}, "x2": {"field": "d2"},
  "y": {"field": "v", "type": "quantitative", "scale": {"type": "log", "domain": [18.74, 24.19], "nice": false}, "axis": {"title": null}}, "y2": {"field": "v2"}}},
{"data": {"values": [{"d": 6.36, "d2": 28.08, "v": 25.08, "v2": 24.015}, {"d": 26.96, "d2": 50.67, "v": 19.66, "v2": 18.82}]},
 "mark": {"type": "rect", "fill": "#ffffff", "stroke": "#6a6a6a", "strokeWidth": 1, "opacity": 1},
 "encoding": {"x": {"field": "d", "type": "quantitative", "scale": {"domain": [-2.05, 62.5], "nice": false, "zero": false}, "axis": {"title": null}}, "x2": {"field": "d2"},
  "y": {"field": "v", "type": "quantitative", "scale": {"type": "log", "domain": [18.74, 24.19], "nice": false}, "axis": {"title": null}}, "y2": {"field": "v2"}}},
{"data": {"values": [{"d": 27.31, "v": 24.015, "o": 1}, {"d": 30.82, "v": 21.58, "o": 2}, {"d": 28.4, "v": 24.015, "o": 3}]},
 "mark": {"type": "line", "color": "#8a8a8a", "strokeWidth": 1, "fill": "#ffffff"},
 "encoding": {"x": {"field": "d", "type": "quantitative", "scale": {"domain": [-2.05, 62.5], "nice": false, "zero": false}, "axis": {"title": null}},
  "y": {"field": "v", "type": "quantitative", "scale": {"type": "log", "domain": [18.74, 24.19], "nice": false}, "axis": {"title": null}}, "order": {"field": "o"}}},
{"data": {"values": [{"d": 6.74, "v": 24.72, "t": "Bearish Pennant"}, {"d": 6.74, "v": 24.28, "t": "Min. Target = 15.09"}]},
 "mark": {"type": "text", "align": "left", "baseline": "middle", "fontSize": 15, "fontWeight": "bold", "color": "#000"},
 "encoding": {"x": {"field": "d", "type": "quantitative", "scale": {"domain": [-2.05, 62.5], "nice": false, "zero": false}, "axis": {"title": null}},
  "y": {"field": "v", "type": "quantitative", "scale": {"type": "log", "domain": [18.74, 24.19], "nice": false}, "axis": {"title": null}}, "text": {"field": "t"}}},
{"data": {"values": [{"d": 27.38, "v": 19.41, "t": "Head & Shoulders"}, {"d": 27.38, "v": 19.07, "t": "Min. Target = 13.21"}]},
 "mark": {"type": "text", "align": "left", "baseline": "middle", "fontSize": 16, "fontWeight": "bold", "color": "#000"},
 "encoding": {"x": {"field": "d", "type": "quantitative", "scale": {"domain": [-2.05, 62.5], "nice": false, "zero": false}, "axis": {"title": null}},
  "y": {"field": "v", "type": "quantitative", "scale": {"type": "log", "domain": [18.74, 24.19], "nice": false}, "axis": {"title": null}}, "text": {"field": "t"}}},
{"data": {"name": "xt"}, "transform": [{"filter": "datum.m == 0"}],
 "mark": {"type": "text", "align": "center", "baseline": "middle", "fontSize": 11, "color": "#111"},
 "encoding": {"x": {"field": "d", "type": "quantitative", "scale": {"domain": [-2.05, 62.5], "nice": false, "zero": false}, "axis": {"title": null}},
  "y": {"datum": 18.607, "type": "quantitative", "scale": {"type": "log", "domain": [18.74, 24.19], "nice": false}, "axis": {"title": null}}, "text": {"field": "t"}}},
{"data": {"name": "xt"}, "transform": [{"filter": "datum.m == 1"}],
 "mark": {"type": "text", "align": "center", "baseline": "middle", "fontSize": 11, "fontWeight": "bold", "color": "#111"},
 "encoding": {"x": {"field": "d", "type": "quantitative", "scale": {"domain": [-2.05, 62.5], "nice": false, "zero": false}, "axis": {"title": null}},
  "y": {"datum": 18.607, "type": "quantitative", "scale": {"type": "log", "domain": [18.74, 24.19], "nice": false}, "axis": {"title": null}}, "text": {"field": "t"}}},
{"data": {"name": "rcall"}, "transform": [{"filter": "datum.s != 'last'"}],
 "mark": {"type": "point", "shape": "M-1,0L-0.75,-0.375L1,-0.375L1,0.375L-0.75,0.375Z", "size": 1024, "filled": true, "fill": "#f4f8fb", "strokeWidth": 1, "opacity": 1},
 "encoding": {"x": {"datum": 64.76, "type": "quantitative", "scale": {"domain": [-2.05, 62.5], "nice": false, "zero": false}, "axis": {"title": null}},
  "y": {"field": "v", "type": "quantitative", "scale": {"type": "log", "domain": [18.74, 24.19], "nice": false}, "axis": {"title": null}},
  "stroke": {"field": "s", "type": "nominal", "scale": {"domain": ["upper", "mid", "ma200", "lower", "last"], "range": ["#12127e", "#2a2aa8", "#1f7a1f", "#12127e", "#e00000"]}, "legend": null}}},
{"data": {"name": "rcall"}, "transform": [{"filter": "datum.s != 'last'"}],
 "mark": {"type": "text", "align": "center", "baseline": "middle", "font": "DejaVu Sans", "fontSize": 9.5, "color": "#111"},
 "encoding": {"x": {"datum": 65.04, "type": "quantitative", "scale": {"domain": [-2.05, 62.5], "nice": false, "zero": false}, "axis": {"title": null}},
  "y": {"field": "v", "type": "quantitative", "scale": {"type": "log", "domain": [18.74, 24.19], "nice": false}, "axis": {"title": null}}, "text": {"field": "t"}}},
{"data": {"name": "rcall"}, "transform": [{"filter": "datum.s == 'last'"}],
 "mark": {"type": "point", "shape": "M-1,0L-0.75,-0.42L1,-0.42L1,0.42L-0.75,0.42Z", "size": 1024, "filled": true, "fill": "#ffffff", "strokeWidth": 1.2, "opacity": 1},
 "encoding": {"x": {"datum": 64.76, "type": "quantitative", "scale": {"domain": [-2.05, 62.5], "nice": false, "zero": false}, "axis": {"title": null}},
  "y": {"field": "v", "type": "quantitative", "scale": {"type": "log", "domain": [18.74, 24.19], "nice": false}, "axis": {"title": null}},
  "stroke": {"field": "s", "type": "nominal", "scale": {"domain": ["upper", "mid", "ma200", "lower", "last"], "range": ["#12127e", "#2a2aa8", "#1f7a1f", "#12127e", "#e00000"]}, "legend": null}}},
{"data": {"name": "rcall"}, "transform": [{"filter": "datum.s == 'last'"}],
 "mark": {"type": "text", "align": "center", "baseline": "middle", "font": "DejaVu Sans", "fontSize": 10.5, "fontWeight": "bold", "color": "#000"},
 "encoding": {"x": {"datum": 65.04, "type": "quantitative", "scale": {"domain": [-2.05, 62.5], "nice": false, "zero": false}, "axis": {"title": null}},
  "y": {"field": "v", "type": "quantitative", "scale": {"type": "log", "domain": [18.74, 24.19], "nice": false}, "axis": {"title": null}}, "text": {"field": "t"}}}
]
},
{
"width": 463, "height": 16,
"view": {"stroke": null, "fill": null},
"data": {"values": [{"d": 0}]},
"mark": {"type": "point", "opacity": 0},
"encoding": {"x": {"field": "d", "type": "quantitative", "axis": null}}
},
{
"width": 463, "height": 100,
"view": {"stroke": "#8a8a8a", "fill": "#eed8b9"},
"layer": [
{"data": {"values": [{"v": 80}, {"v": 20}]}, "mark": {"type": "rule", "color": "#0f6b0f", "strokeWidth": 1.2},
 "encoding": {"y": {"field": "v", "type": "quantitative", "scale": {"domain": [-9.6, 108.8], "nice": false, "zero": false}, "axis": {"orient": "right", "values": [20, 50, 80], "grid": false, "domain": false, "labels": true, "tickSize": 3, "tickColor": "#666", "labelFontSize": 11, "labelColor": "#222", "labelPadding": 2, "title": null, "labelOverlap": false}}}},
{"data": {"values": [{"v": 50}]}, "mark": {"type": "rule", "color": "#0f6b0f", "strokeWidth": 1, "strokeDash": [7, 3, 2, 3]},
 "encoding": {"y": {"field": "v", "type": "quantitative", "scale": {"domain": [-9.6, 108.8], "nice": false, "zero": false}, "axis": {"title": null}}}},
{"data": {"name": "std"}, "mark": {"type": "line", "color": "#ff1a1a", "strokeWidth": 1.3},
 "encoding": {"x": {"field": "d", "type": "quantitative", "scale": {"domain": [-2.05, 62.5], "nice": false, "zero": false}, "axis": {"values": [0,5.1,9.76,12.9,14.69,20.68,24.77,29.99,35,39.97,45.09,49.97,54.99,58.8], "grid": true, "gridColor": "#cdc4a6", "ticks": false, "domain": false, "labels": false, "title": null}},
  "y": {"field": "v", "type": "quantitative", "scale": {"domain": [-9.6, 108.8], "nice": false, "zero": false}, "axis": {"title": null}}}},
{"data": {"name": "stk"}, "mark": {"type": "line", "color": "#000000", "strokeWidth": 1.8},
 "encoding": {"x": {"field": "d", "type": "quantitative", "scale": {"domain": [-2.05, 62.5], "nice": false, "zero": false}, "axis": {"title": null}},
  "y": {"field": "v", "type": "quantitative", "scale": {"domain": [-9.6, 108.8], "nice": false, "zero": false}, "axis": {"title": null}}}},
{"data": {"values": [{"d": 13.95, "v": 94.9, "t": "(c)"}]},
 "mark": {"type": "text", "align": "center", "baseline": "middle", "fontSize": 14, "fontWeight": "bold", "color": "#1c9a1c"},
 "encoding": {"x": {"field": "d", "type": "quantitative", "scale": {"domain": [-2.05, 62.5], "nice": false, "zero": false}, "axis": {"title": null}},
  "y": {"field": "v", "type": "quantitative", "scale": {"domain": [-9.6, 108.8], "nice": false, "zero": false}, "axis": {"title": null}}, "text": {"field": "t"}}},
{"data": {"values": [{"d": 13.8, "v": 71.4, "t": "[b]"}]},
 "mark": {"type": "text", "align": "center", "baseline": "middle", "fontSize": 15, "fontWeight": "bold", "color": "#e01010"},
 "encoding": {"x": {"field": "d", "type": "quantitative", "scale": {"domain": [-2.05, 62.5], "nice": false, "zero": false}, "axis": {"title": null}},
  "y": {"field": "v", "type": "quantitative", "scale": {"domain": [-9.6, 108.8], "nice": false, "zero": false}, "axis": {"title": null}}, "text": {"field": "t"}}},
{"data": {"values": [{"d": 10.5, "v": 29.5, "t": "10/2"}, {"d": 10.5, "v": 3.4, "t": "PC low"}, {"d": -4.42, "v": 18.9, "t": "ue 8/19"}]},
 "mark": {"type": "text", "align": "left", "baseline": "middle", "fontSize": 14, "fontWeight": "bold", "color": "#000"},
 "encoding": {"x": {"field": "d", "type": "quantitative", "scale": {"domain": [-2.05, 62.5], "nice": false, "zero": false}, "axis": {"title": null}},
  "y": {"field": "v", "type": "quantitative", "scale": {"domain": [-9.6, 108.8], "nice": false, "zero": false}, "axis": {"title": null}}, "text": {"field": "t"}}},
{"data": {"name": "xt"}, "transform": [{"filter": "datum.m == 0"}],
 "mark": {"type": "text", "align": "center", "baseline": "middle", "fontSize": 11, "color": "#111"},
 "encoding": {"x": {"field": "d", "type": "quantitative", "scale": {"domain": [-2.05, 62.5], "nice": false, "zero": false}, "axis": {"title": null}},
  "y": {"datum": -17.6, "type": "quantitative", "scale": {"domain": [-9.6, 108.8], "nice": false, "zero": false}, "axis": {"title": null}}, "text": {"field": "t"}}},
{"data": {"name": "xt"}, "transform": [{"filter": "datum.m == 1"}],
 "mark": {"type": "text", "align": "center", "baseline": "middle", "fontSize": 11, "fontWeight": "bold", "color": "#111"},
 "encoding": {"x": {"field": "d", "type": "quantitative", "scale": {"domain": [-2.05, 62.5], "nice": false, "zero": false}, "axis": {"title": null}},
  "y": {"datum": -17.6, "type": "quantitative", "scale": {"domain": [-9.6, 108.8], "nice": false, "zero": false}, "axis": {"title": null}}, "text": {"field": "t"}}},
{"data": {"values": [{"v": 27.5, "t": "28.54", "s": "dd"}, {"v": 34.59, "t": "34.59", "s": "k"}]},
 "mark": {"type": "point", "shape": "M-1,0L-0.75,-0.375L1,-0.375L1,0.375L-0.75,0.375Z", "size": 1024, "filled": true, "strokeWidth": 1, "opacity": 1},
 "encoding": {"x": {"datum": 64.76, "type": "quantitative", "scale": {"domain": [-2.05, 62.5], "nice": false, "zero": false}, "axis": {"title": null}},
  "y": {"field": "v", "type": "quantitative", "scale": {"domain": [-9.6, 108.8], "nice": false, "zero": false}, "axis": {"title": null}},
  "fill": {"field": "s", "type": "nominal", "scale": {"domain": ["dd", "k"], "range": ["#ffffff", "#d2f4f6"]}, "legend": null},
  "stroke": {"field": "s", "type": "nominal", "scale": {"domain": ["dd", "k"], "range": ["#e00000", "#111111"]}, "legend": null}}},
{"data": {"values": [{"v": 27.5, "t": "28.54", "s": "dd"}, {"v": 34.59, "t": "34.59", "s": "k"}]},
 "mark": {"type": "text", "align": "center", "baseline": "middle", "font": "DejaVu Sans", "fontSize": 9.5, "color": "#111"},
 "encoding": {"x": {"datum": 65.04, "type": "quantitative", "scale": {"domain": [-2.05, 62.5], "nice": false, "zero": false}, "axis": {"title": null}},
  "y": {"field": "v", "type": "quantitative", "scale": {"domain": [-9.6, 108.8], "nice": false, "zero": false}, "axis": {"title": null}}, "text": {"field": "t"}}}
]
}
]
}
